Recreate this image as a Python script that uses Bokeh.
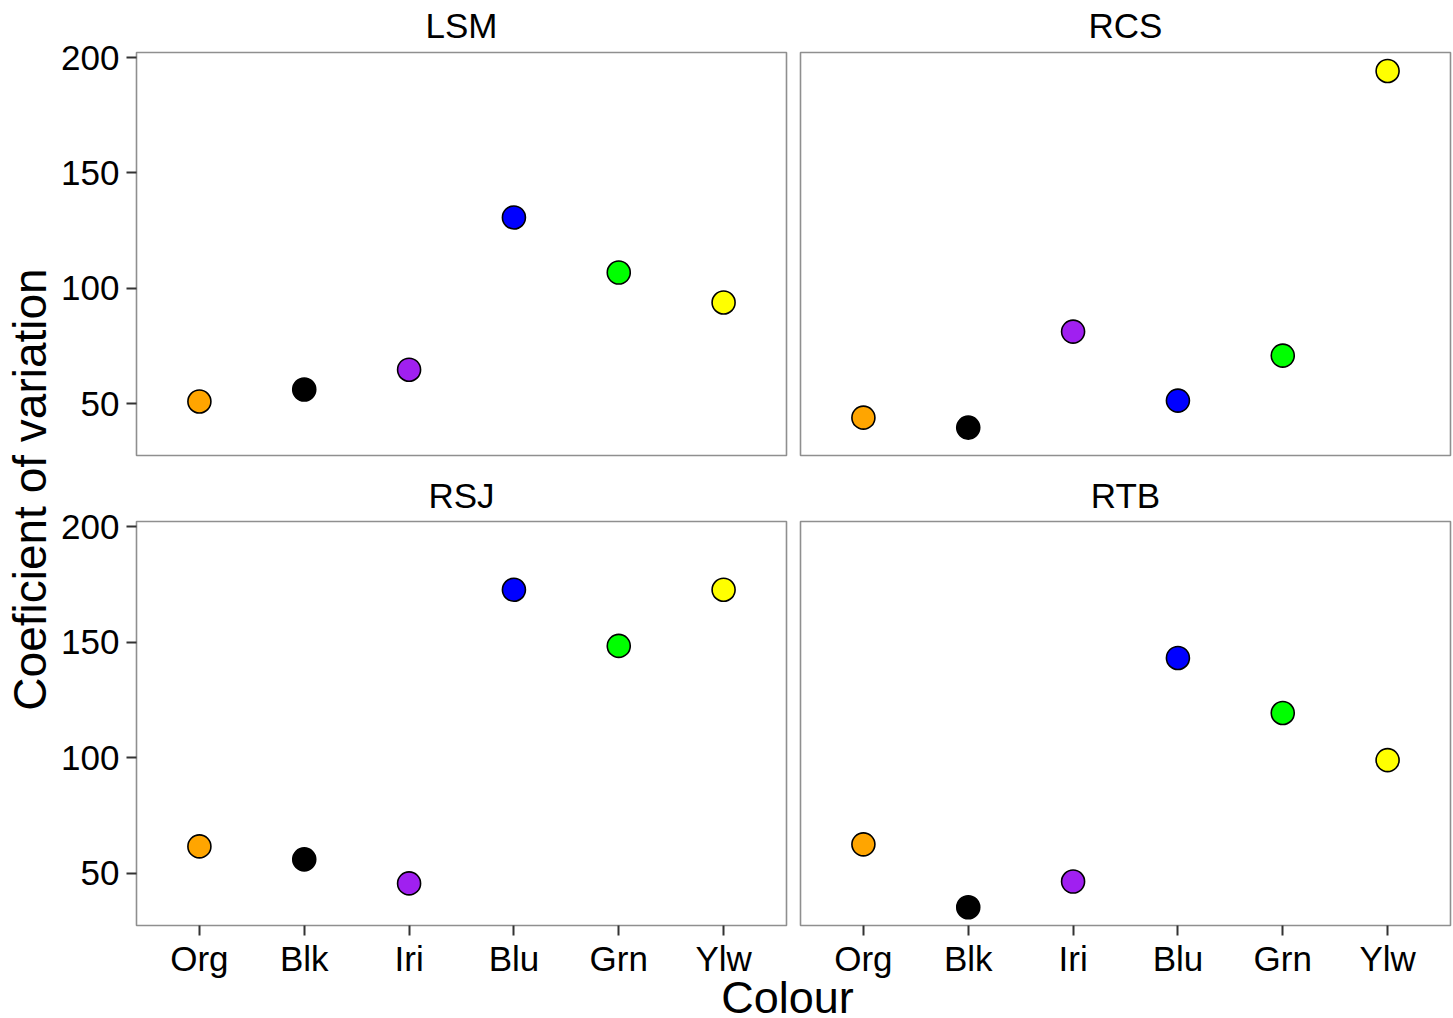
import math
from bokeh.plotting import figure
from bokeh.models import (ColumnDataSource, FactorRange, Range1d, FixedTicker,
                          Label, GridBox)
from bokeh.embed import file_html
from bokeh.resources import INLINE

# ---- data ----
colours = ["Org", "Blk", "Iri", "Blu", "Grn", "Ylw"]
fills = ["#FFA500", "#000000", "#A020F0", "#0000FF", "#00FF00", "#FFFF00"]
lsm = [50.9, 56.1, 64.7, 130.7, 106.8, 93.8]
rcs = [43.9, 39.6, 81.2, 51.3, 70.8, 194.2]
rsj = [61.7, 56.1, 45.7, 172.7, 148.4, 172.7]
rtb = [62.6, 35.4, 46.5, 143.2, 119.4, 99.0]
panels = ["LSM", "RCS", "RSJ", "RTB"]
y_ticks = [50, 100, 150, 200]

FONT = "Liberation Sans"
Y_LO, Y_HI = 27.5, 202.2
FRAME_W = 650


def panel(vals, show_x, show_y, width, height, bl, br, bt, bb):
    p = figure(width=width, height=height, output_backend="svg",
               toolbar_location=None,
               x_range=FactorRange(factors=colours, range_padding=0.1,
                                   range_padding_units="absolute"),
               y_range=Range1d(Y_LO, Y_HI),
               x_axis_location="below" if show_x else None,
               y_axis_location="left" if show_y else None,
               min_border_left=bl, min_border_right=br,
               min_border_top=bt, min_border_bottom=bb)
    p.grid.visible = False
    p.outline_line_color = "#8f8f8f"
    p.outline_line_width = 1.6
    p.background_fill_color = "white"
    p.border_fill_color = "white"
    for ax in p.axis:
        ax.axis_line_color = None
        ax.major_tick_out = 10
        ax.major_tick_in = 0
        ax.major_tick_line_color = "#333333"
        ax.major_tick_line_width = 2
        ax.minor_tick_line_color = None
        ax.major_label_text_font = FONT
        ax.major_label_text_font_size = "35px"
        ax.major_label_text_color = "#000000"
    if show_y:
        p.yaxis.ticker = FixedTicker(ticks=y_ticks)
        p.yaxis.major_label_standoff = 7
    if show_x:
        p.xaxis.major_label_standoff = 3
    src = ColumnDataSource(dict(x=colours, y=vals, c=fills))
    p.scatter("x", "y", source=src, size=23, fill_color="c",
              line_color="#000000", line_width=1.6)
    return p


def blank(w, h):
    f = figure(width=w, height=h, output_backend="svg", toolbar_location=None,
               x_range=Range1d(0, w), y_range=Range1d(0, h),
               x_axis_location=None, y_axis_location=None,
               min_border=0)
    f.grid.visible = False
    f.outline_line_color = None
    f.background_fill_color = "white"
    f.border_fill_color = "white"
    return f


def lab(text, x, y, size, angle=0.0):
    return Label(x=x, y=y, x_units="screen", y_units="screen", text=text,
                 angle=angle, text_align="center", text_baseline="middle",
                 text_font=FONT, text_font_size=size, text_color="#000000")


W0, W1, W2 = 56, 737, 660
BL = 80
HA, HB, HC, HD, HE = 44, 426, 42, 468, 38
FRAME_LEFT = W0 + BL  # strip frames are aligned with the panel frames


def strip(left_text, right_text, h, y):
    s = blank(W1 + W2, h)
    s.add_layout(lab(left_text, FRAME_W / 2, y, "35px"))
    s.add_layout(lab(right_text, W0 + W1 + 7 + FRAME_W / 2 - FRAME_LEFT, y,
                     "35px"))
    return s


s_top = strip(panels[0], panels[1], HA, 19)
s_bot = strip(panels[2], panels[3], HC, 17)

p_lsm = panel(lsm, False, True, W1, HB, BL, 7, 8, 15)
p_rcs = panel(rcs, False, False, W2, HB, 7, 3, 8, 15)
p_rsj = panel(rsj, True, True, W1, HD, BL, 7, 9, 55)
p_rtb = panel(rtb, True, False, W2, HD, 7, 3, 9, 55)

YH = HA + HB + HC + HD
FRAME_BOTTOM = YH - 55  # ylab frame aligned with bottom panel frames
ylab = blank(W0, YH)
ylab.add_layout(lab("Coeficient of variation", 29.5, FRAME_BOTTOM - 489,
                    "46px", angle=math.pi / 2))

xlab = blank(W0 + W1 + W2, HE)
xlab.add_layout(lab("Colour", 787, 21, "45px"))

grid = GridBox(children=[
    (ylab, 0, 0, 4, 1),
    (s_top, 0, 1, 1, 2),
    (p_lsm, 1, 1), (p_rcs, 1, 2),
    (s_bot, 2, 1, 1, 2),
    (p_rsj, 3, 1), (p_rtb, 3, 2),
    (xlab, 4, 0, 1, 3),
], spacing=0)

open("out.html", "w").write(file_html(grid, INLINE))
